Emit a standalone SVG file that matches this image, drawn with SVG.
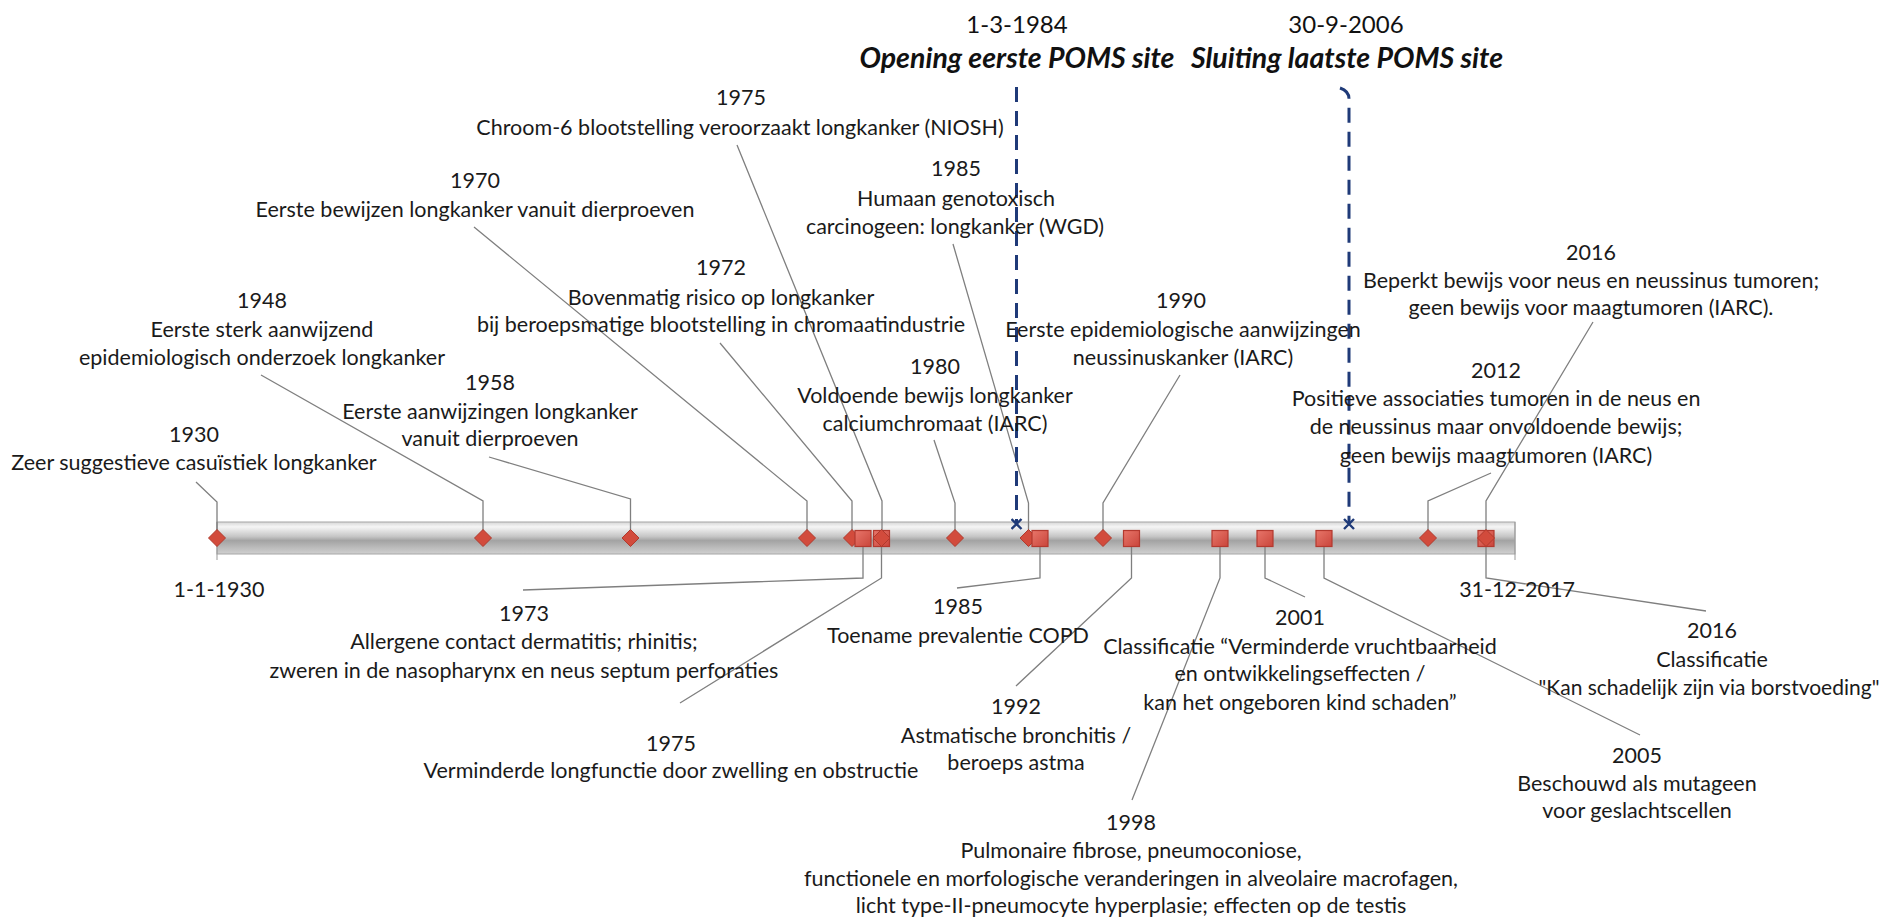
<svg xmlns="http://www.w3.org/2000/svg" width="1885" height="917" viewBox="0 0 1885 917">
<defs>
<linearGradient id="barGrad" x1="0" y1="0" x2="0" y2="1">
<stop offset="0" stop-color="#d6d6d6"/>
<stop offset="0.15" stop-color="#f5f5f5"/>
<stop offset="0.45" stop-color="#c6c6c6"/>
<stop offset="0.58" stop-color="#a3a3a3"/>
<stop offset="0.75" stop-color="#b6b6b6"/>
<stop offset="1" stop-color="#d0d0d0"/>
</linearGradient>
<linearGradient id="sqGrad" x1="0" y1="0" x2="1" y2="1">
<stop offset="0" stop-color="#e8766a"/>
<stop offset="1" stop-color="#c9453b"/>
</linearGradient>
<marker id="xTip" viewBox="-6 -6 12 12" markerWidth="12" markerHeight="12" refX="0" refY="0" orient="auto" markerUnits="userSpaceOnUse">
<path d="M-5,-5 L5,5 M-5,5 L5,-5" stroke="#1f3a78" stroke-width="2.4" fill="none"/>
</marker>
<style>
.t{font-family:Lato,"Liberation Sans",sans-serif;font-size:21.5px;fill:#1a1a1a;text-anchor:middle}
.h{font-family:Lato,"Liberation Sans",sans-serif;font-size:24px;fill:#111;text-anchor:middle}
.hb{font-family:Lato,"Liberation Sans",sans-serif;font-size:28.5px;font-weight:bold;font-style:italic;fill:#111;text-anchor:middle}
.ld{fill:none;stroke:#7f7f7f;stroke-width:1.3}
.poms{fill:none;stroke:#1f3a78;stroke-width:3;stroke-dasharray:15 9}
.dm{fill:#d24b3c;stroke:#b03a2d;stroke-width:1}
.sq{fill:url(#sqGrad);stroke:#b3392f;stroke-width:1.2}
</style>
</defs>
<rect width="1885" height="917" fill="#ffffff"/>

<g id="timeline-bar">
<rect x="217" y="522" width="1298" height="32" fill="url(#barGrad)" stroke="#a6a6a6" stroke-width="1"/>
<line x1="217" y1="522" x2="217" y2="560" stroke="#999" stroke-width="1"/>
<line x1="1515" y1="522" x2="1515" y2="560" stroke="#999" stroke-width="1"/>
</g>

<g id="connectors">
<polyline class="ld" points="196,482 217,502 217,538"/>
<polyline class="ld" points="261,375 483,501 483,538"/>
<polyline class="ld" points="489,457 630.5,499 630.5,538"/>
<polyline class="ld" points="474,227 807,501 807,538"/>
<polyline class="ld" points="720,343 852,501 852,538"/>
<polyline class="ld" points="737,145 882,501 882,538"/>
<polyline class="ld" points="934,440 955,503 955,538"/>
<polyline class="ld" points="953,244 1028.5,503 1028.5,538"/>
<polyline class="ld" points="1180,375 1103,503 1103,538"/>
<polyline class="ld" points="1491,473 1428,501 1428,538"/>
<polyline class="ld" points="1593,322 1486,501 1486,538"/>
<polyline class="ld" points="863,538 863,578 523,590"/>
<polyline class="ld" points="881.5,538 881.5,578 680,703"/>
<polyline class="ld" points="1040,538 1040,578 957,588"/>
<polyline class="ld" points="1131.5,538 1131.5,578 1016,686"/>
<polyline class="ld" points="1220,538 1220,578 1132,800"/>
<polyline class="ld" points="1265,538 1265,578 1305,597"/>
<polyline class="ld" points="1324,538 1324,578 1640,735"/>
<polyline class="ld" points="1486,538 1486,578 1706,611"/>
<path class="poms" d="M1016.5,87 L1016.5,524" marker-end="url(#xTip)"/>
<path class="poms" d="M1340,88 Q1349,91 1349,99 L1349,524" marker-end="url(#xTip)"/>
</g>

<g id="poms-open">
<text class="h" x="1017" y="33">1-3-1984</text>
<text class="hb" x="1017" y="68">Opening eerste POMS site</text>
</g>
<g id="poms-close">
<text class="h" x="1346" y="33">30-9-2006</text>
<text class="hb" x="1347" y="68">Sluiting laatste POMS site</text>
</g>

<g id="start-date"><text class="t" x="219" y="597">1-1-1930</text></g>
<g id="end-date"><text class="t" x="1517" y="597">31-12-2017</text></g>

<g id="e1930">
<polygon class="dm" points="217,529.5 225.5,538 217,546.5 208.5,538"/>
<text class="t" x="194" y="442">1930</text>
<text class="t" x="194" y="470">Zeer suggestieve casuïstiek longkanker</text>
</g>
<g id="e1948">
<polygon class="dm" points="483,529.5 491.5,538 483,546.5 474.5,538"/>
<text class="t" x="262" y="308">1948</text>
<text class="t" x="262" y="337">Eerste sterk aanwijzend</text>
<text class="t" x="262" y="365">epidemiologisch onderzoek longkanker</text>
</g>
<g id="e1958">
<polygon class="dm" points="630.5,529.5 639,538 630.5,546.5 622,538"/>
<text class="t" x="490" y="390">1958</text>
<text class="t" x="490" y="419">Eerste aanwijzingen longkanker</text>
<text class="t" x="490" y="446">vanuit dierproeven</text>
</g>
<g id="e1970">
<polygon class="dm" points="807,529.5 815.5,538 807,546.5 798.5,538"/>
<text class="t" x="475" y="188">1970</text>
<text class="t" x="475" y="217">Eerste bewijzen longkanker vanuit dierproeven</text>
</g>
<g id="e1972">
<polygon class="dm" points="852,529.5 860.5,538 852,546.5 843.5,538"/>
<text class="t" x="721" y="275">1972</text>
<text class="t" x="721" y="305">Bovenmatig risico op longkanker</text>
<text class="t" x="721" y="332">bij beroepsmatige blootstelling in chromaatindustrie</text>
</g>
<g id="e1973">
<rect class="sq" x="855" y="530.5" width="16" height="16"/>
<text class="t" x="524" y="621">1973</text>
<text class="t" x="524" y="649">Allergene contact dermatitis; rhinitis;</text>
<text class="t" x="524" y="678">zweren in de nasopharynx en neus septum perforaties</text>
</g>
<g id="e1975b">
<rect class="sq" x="873.5" y="530.5" width="16" height="16"/>
<text class="t" x="671" y="751">1975</text>
<text class="t" x="671" y="778">Verminderde longfunctie door zwelling en obstructie</text>
</g>
<g id="e1975">
<polygon class="dm" points="881.5,529.5 890,538 881.5,546.5 873,538"/>
<text class="t" x="741" y="105">1975</text>
<text class="t" x="740" y="135">Chroom-6 blootstelling veroorzaakt longkanker (NIOSH)</text>
</g>
<g id="e1980">
<polygon class="dm" points="955,529.5 963.5,538 955,546.5 946.5,538"/>
<text class="t" x="935" y="374">1980</text>
<text class="t" x="935" y="403">Voldoende bewijs longkanker</text>
<text class="t" x="935" y="431">calciumchromaat (IARC)</text>
</g>
<g id="e1985">
<polygon class="dm" points="1028.5,529.5 1037,538 1028.5,546.5 1020,538"/>
<text class="t" x="956" y="176">1985</text>
<text class="t" x="956" y="206">Humaan genotoxisch</text>
<text class="t" x="955" y="234">carcinogeen: longkanker (WGD)</text>
</g>
<g id="e1985b">
<rect class="sq" x="1032" y="530.5" width="16" height="16"/>
<text class="t" x="958" y="614">1985</text>
<text class="t" x="958" y="643">Toename prevalentie COPD</text>
</g>
<g id="e1990">
<polygon class="dm" points="1103,529.5 1111.5,538 1103,546.5 1094.5,538"/>
<text class="t" x="1181" y="308">1990</text>
<text class="t" x="1183" y="337">Eerste epidemiologische aanwijzingen</text>
<text class="t" x="1183" y="365">neussinuskanker (IARC)</text>
</g>
<g id="e1992">
<rect class="sq" x="1123.5" y="530.5" width="16" height="16"/>
<text class="t" x="1016" y="714">1992</text>
<text class="t" x="1016" y="743">Astmatische bronchitis /</text>
<text class="t" x="1016" y="770">beroeps astma</text>
</g>
<g id="e1998">
<rect class="sq" x="1212" y="530.5" width="16" height="16"/>
<text class="t" x="1131" y="830">1998</text>
<text class="t" x="1131" y="858">Pulmonaire fibrose, pneumoconiose,</text>
<text class="t" x="1131" y="886">functionele en morfologische veranderingen in alveolaire macrofagen,</text>
<text class="t" x="1131" y="913">licht type-II-pneumocyte hyperplasie; effecten op de testis</text>
</g>
<g id="e2001">
<rect class="sq" x="1257" y="530.5" width="16" height="16"/>
<text class="t" x="1300" y="625">2001</text>
<text class="t" x="1300" y="654">Classificatie “Verminderde vruchtbaarheid</text>
<text class="t" x="1300" y="681">en ontwikkelingseffecten /</text>
<text class="t" x="1300" y="710">kan het ongeboren kind schaden”</text>
</g>
<g id="e2005">
<rect class="sq" x="1316" y="530.5" width="16" height="16"/>
<text class="t" x="1637" y="763">2005</text>
<text class="t" x="1637" y="791">Beschouwd als mutageen</text>
<text class="t" x="1637" y="818">voor geslachtscellen</text>
</g>
<g id="e2012">
<polygon class="dm" points="1428,529.5 1436.5,538 1428,546.5 1419.5,538"/>
<text class="t" x="1496" y="378">2012</text>
<text class="t" x="1496" y="406">Positieve associaties tumoren in de neus en</text>
<text class="t" x="1496" y="434">de neussinus maar onvoldoende bewijs;</text>
<text class="t" x="1496" y="463">geen bewijs maagtumoren (IARC)</text>
</g>
<g id="e2016b">
<rect class="sq" x="1478" y="530.5" width="16" height="16"/>
<text class="t" x="1712" y="638">2016</text>
<text class="t" x="1712" y="667">Classificatie</text>
<text class="t" x="1709" y="695" style="font-size:21px">"Kan schadelijk zijn via borstvoeding"</text>
</g>
<g id="e2016">
<polygon class="dm" points="1486,529.5 1494.5,538 1486,546.5 1477.5,538"/>
<text class="t" x="1591" y="260">2016</text>
<text class="t" x="1591" y="288">Beperkt bewijs voor neus en neussinus tumoren;</text>
<text class="t" x="1591" y="315">geen bewijs voor maagtumoren (IARC).</text>
</g>
</svg>
